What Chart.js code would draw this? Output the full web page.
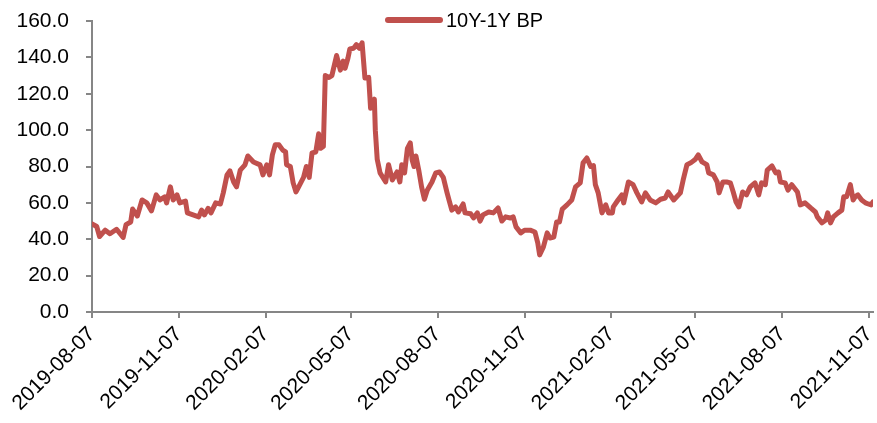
<!DOCTYPE html>
<html lang="en">
<head>
    <meta charset="UTF-8">
    <title>10Y-1Y BP</title>
    <script src="https://cdn.jsdelivr.net/npm/chart.js"></script>
    <style>
        body {
            margin: 0;
            background: #fff;
        }
        #wrap {
            width: 877px;
            height: 423px;
        }
    </style>
</head>
<body>
    <div id="wrap">
        <canvas id="spreadChart" width="877" height="423"></canvas>
    </div>

    <script>
        // days since 2019-08-07
        const dayIndex = [
            0, 5, 8, 14, 19, 26, 33, 36, 41, 43, 48, 53, 58, 63, 68, 72, 77, 79, 83, 86,
            90, 93, 99, 101, 107, 113, 116, 119, 123, 126, 131, 136, 139, 143, 146, 150, 153, 157, 162, 165,
            171, 178, 181, 185, 188, 191, 194, 198, 202, 205, 206, 210, 213, 216, 218, 224, 227, 230, 233, 237,
            240, 242, 245, 247, 251, 254, 259, 263, 266, 268, 271, 273, 277, 280, 283, 286, 289, 293, 295, 299,
            300, 302, 305, 311, 314, 318, 323, 326, 328, 331, 334, 337, 339, 341, 343, 346, 349, 352, 355, 360,
            364, 368, 372, 376, 378, 381, 385, 388, 393, 395, 401, 404, 408, 411, 414, 420, 425, 430, 434, 438,
            443, 446, 449, 454, 458, 464, 469, 472, 474, 478, 482, 485, 489, 492, 495, 498, 503, 508, 512, 517,
            520, 524, 528, 531, 533, 536, 540, 544, 547, 551, 552, 557, 561, 563, 568, 573, 577, 582, 586, 591,
            597, 602, 607, 610, 616, 623, 626, 630, 634, 639, 642, 646, 651, 653, 658, 662, 664, 668, 672, 676,
            679, 682, 685, 689, 693, 697, 702, 706, 709, 713, 715, 720, 724, 727, 729, 734, 737, 741, 747, 750,
            755, 761, 766, 768, 773, 777, 779, 782, 785, 790, 794, 796, 799, 803, 806, 808, 811, 815, 819, 822,
            825, 827
        ];

        const spreadBP = [
            48.5, 47, 41.5, 45, 43, 45.5, 41, 48, 49.5, 56.6, 52.8, 61.6, 60, 55.6, 64.4, 61.6, 63.3, 60, 68.8, 61.6,
            64.4, 60, 61, 54.5, 53.4, 52.3, 56, 53.4, 57, 54.5, 60, 59.4, 65.5, 75.4, 77.6, 71.5, 68.8, 78, 80.9, 85.8,
            82.5, 80.9, 75.4, 80.9, 75.4, 86.4, 91.9, 91.9, 89, 88, 81, 80, 71, 66, 68, 74, 80, 74, 87.5, 88,
            98, 90, 91, 130, 129, 130, 141, 133, 138, 134, 139.5, 144.6, 145, 147, 145, 148, 128.7, 129, 112, 117,
            100, 84, 76.5, 71.5, 81, 72.6, 77, 71.5, 81, 76.5, 90, 93, 83.6, 80, 85.8, 78, 68.8, 62, 67, 71.5,
            76.5, 77, 74, 65.5, 61.6, 56, 57.8, 55, 59.4, 54.5, 54, 51.7, 54.5, 50, 53.4, 55, 54.5, 57.2, 50, 52.3,
            51.7, 52.3, 46.8, 43.5, 45, 45, 44, 38, 31.4, 35.8, 43.5, 40.7, 41.2, 49.5, 49.5, 56.6, 58.9, 61.6, 68.8, 71,
            82, 84.7, 80, 80.5, 70, 65.5, 54.5, 58.9, 54.5, 54.5, 57.8, 61.6, 64.4, 60, 71.5, 70, 65.5, 60.5, 65.5, 61.6,
            60, 62, 62.7, 66, 61.6, 65.5, 72.6, 81, 82, 84, 86.4, 82.5, 81, 76.5, 75.4, 71.5, 65.5, 71.5, 71.5, 71,
            66, 60.5, 57.8, 66, 64.4, 68.8, 71, 64.4, 71, 70, 78, 80.3, 76.5, 77, 71.5, 71, 67, 70, 66, 58.9,
            60, 57.2, 55, 52.3, 49, 50.6, 54.5, 49, 52.3, 54.5, 56, 63.3, 63.3, 70, 61.6, 63.3, 64.4, 61.6, 60, 59.4,
            58.9, 60.5
        ];

        const tickDays = [0, 92, 184, 274, 366, 458, 550, 639, 731, 823];
        const tickLabels = [
            '2019-08-07', '2019-11-07', '2020-02-07', '2020-05-07', '2020-08-07',
            '2020-11-07', '2021-02-07', '2021-05-07', '2021-08-07', '2021-11-07'
        ];
        const yTicks = [0, 20, 40, 60, 80, 100, 120, 140, 160];
        const seriesName = '10Y-1Y BP';

        const lineRed = '#c0504d';
        const axisGrey = '#868686';
        const fontFamily = '"Liberation Sans", Arial, sans-serif';

        // legend sits above the plot, like the original
        const topLegend = {
            id: 'topLegend',
            afterDraw(chart) {
                const ctx = chart.ctx;
                const area = chart.chartArea;
                const x0 = area.left + 296;
                const y0 = 20;
                ctx.save();
                ctx.strokeStyle = lineRed;
                ctx.lineWidth = 6;
                ctx.lineCap = 'round';
                ctx.beginPath();
                ctx.moveTo(x0, y0);
                ctx.lineTo(x0 + 52, y0);
                ctx.stroke();
                ctx.fillStyle = '#000';
                ctx.font = '20px ' + fontFamily;
                ctx.textBaseline = 'middle';
                ctx.textAlign = 'left';
                ctx.fillText(seriesName, x0 + 58, y0 + 1);
                ctx.restore();
            }
        };

        const points = dayIndex.map((d, i) => ({ x: d, y: spreadBP[i] }));

        new Chart(document.getElementById('spreadChart'), {
            type: 'line',
            data: {
                datasets: [{
                    label: seriesName,
                    data: points,
                    borderColor: lineRed,
                    backgroundColor: lineRed,
                    borderWidth: 5,
                    pointRadius: 0,
                    tension: 0,
                    borderJoinStyle: 'round',
                    borderCapStyle: 'round'
                }]
            },
            options: {
                responsive: false,
                animation: false,
                layout: {
                    padding: { top: 21, right: 4, left: 0, bottom: 0 }
                },
                plugins: {
                    legend: { display: false },
                    tooltip: { enabled: false }
                },
                scales: {
                    x: {
                        type: 'linear',
                        min: 0,
                        max: 827,
                        afterBuildTicks: (scale) => {
                            scale.ticks = tickDays.map(v => ({ value: v }));
                        },
                        afterFit: (scale) => {
                            scale.height = 111;
                            scale.paddingLeft = 0;
                            scale.paddingRight = 0;
                        },
                        border: { display: true, color: axisGrey, width: 2 },
                        grid: {
                            drawOnChartArea: false,
                            drawTicks: true,
                            tickLength: 6,
                            color: axisGrey,
                            lineWidth: 2
                        },
                        ticks: {
                            autoSkip: false,
                            minRotation: 45,
                            maxRotation: 45,
                            padding: 4,
                            color: '#000',
                            font: { family: fontFamily, size: 21 },
                            callback: (value) => {
                                const i = tickDays.indexOf(value);
                                return i >= 0 ? tickLabels[i] : '';
                            }
                        }
                    },
                    y: {
                        min: 0,
                        max: 160,
                        afterBuildTicks: (scale) => {
                            scale.ticks = yTicks.map(v => ({ value: v }));
                        },
                        afterFit: (scale) => {
                            scale.width = 92;
                            scale.paddingTop = 0;
                            scale.paddingBottom = 0;
                        },
                        border: { display: true, color: axisGrey, width: 2 },
                        grid: {
                            drawOnChartArea: false,
                            drawTicks: true,
                            tickLength: 6,
                            color: axisGrey,
                            lineWidth: 2
                        },
                        ticks: {
                            padding: 17,
                            color: '#000',
                            font: { family: fontFamily, size: 21 },
                            callback: (value) => value.toFixed(1)
                        }
                    }
                }
            },
            plugins: [topLegend]
        });
    </script>
</body>
</html>
